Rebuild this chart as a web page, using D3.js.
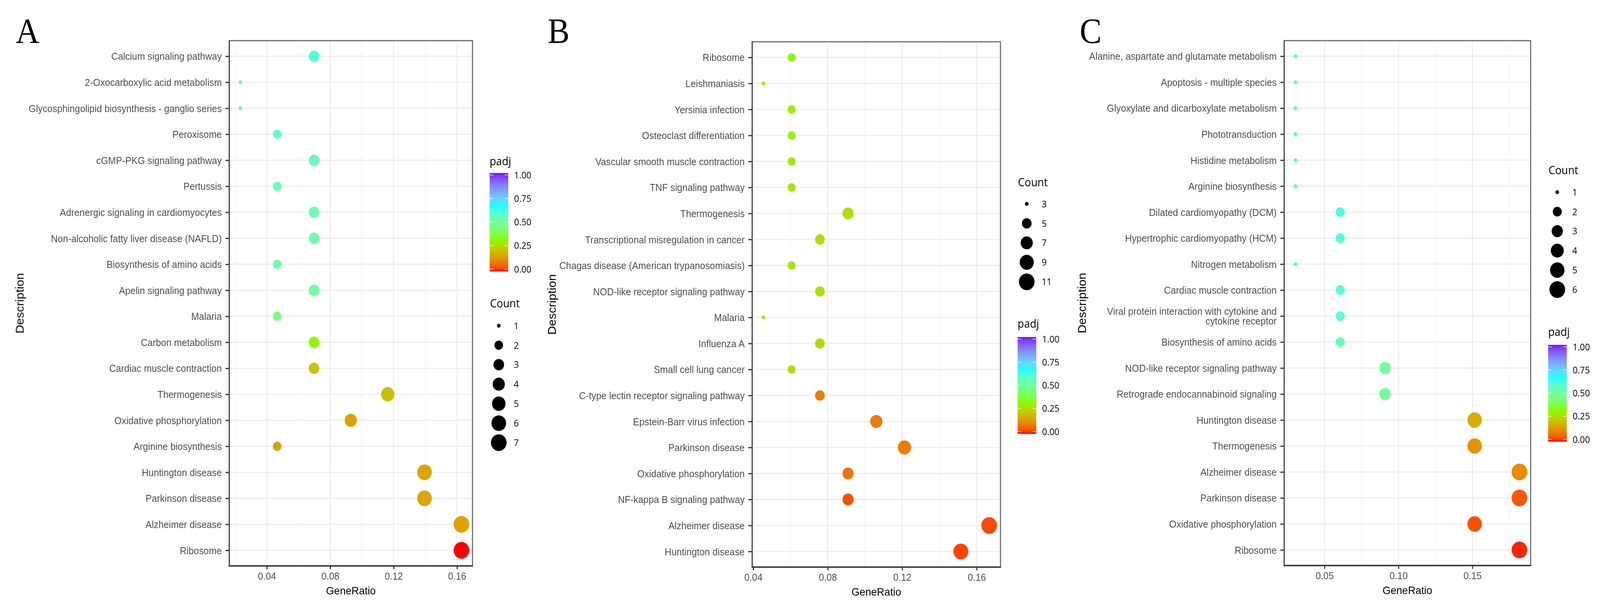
<!DOCTYPE html>
<html>
<head>
<meta charset="utf-8">
<script src="https://cdn.jsdelivr.net/npm/d3@7/dist/d3.min.js"></script>
<style>
  html, body { margin: 0; padding: 0; background: #ffffff; overflow: hidden; width: 100%; height: 100%; }
  svg { display: block; position: fixed; left: 0; top: 0; width: 100vw; height: 100vh; }
</style>
</head>
<body>
<svg id="chart" viewBox="0 0 4382 1567" preserveAspectRatio="none"></svg>
<script>
// ---------------- DATA ----------------
const termsA = ["Calcium signaling pathway","2-Oxocarboxylic acid metabolism","Glycosphingolipid biosynthesis - ganglio series","Peroxisome","cGMP-PKG signaling pathway","Pertussis","Adrenergic signaling in cardiomyocytes","Non-alcoholic fatty liver disease (NAFLD)","Biosynthesis of amino acids","Apelin signaling pathway","Malaria","Carbon metabolism","Cardiac muscle contraction","Thermogenesis","Oxidative phosphorylation","Arginine biosynthesis","Huntington disease","Parkinson disease","Alzheimer disease","Ribosome"];
const ratioA = [0.0698,0.0233,0.0233,0.0465,0.0698,0.0465,0.0698,0.0698,0.0465,0.0698,0.0465,0.0698,0.0698,0.1163,0.0930,0.0465,0.1395,0.1395,0.1628,0.1628];
const countA = [3,1,1,2,3,2,3,3,2,3,2,3,3,5,4,2,6,6,7,7];
const padjA  = [0.60,0.57,0.57,0.56,0.55,0.54,0.53,0.52,0.52,0.50,0.46,0.32,0.22,0.21,0.155,0.15,0.16,0.16,0.155,0.0];

const termsB = ["Ribosome","Leishmaniasis","Yersinia infection","Osteoclast differentiation","Vascular smooth muscle contraction","TNF signaling pathway","Thermogenesis","Transcriptional misregulation in cancer","Chagas disease (American trypanosomiasis)","NOD-like receptor signaling pathway","Malaria","Influenza A","Small cell lung cancer","C-type lectin receptor signaling pathway","Epstein-Barr virus infection","Parkinson disease","Oxidative phosphorylation","NF-kappa B signaling pathway","Alzheimer disease","Huntington disease"];
const ratioB = [0.0606,0.0455,0.0606,0.0606,0.0606,0.0606,0.0909,0.0758,0.0606,0.0758,0.0455,0.0758,0.0606,0.0758,0.1061,0.1212,0.0909,0.0909,0.1667,0.1515];
const countB = [4,3,4,4,4,4,6,5,4,5,3,5,4,5,7,8,6,6,11,10];
const padjB  = [0.32,0.31,0.30,0.30,0.30,0.29,0.27,0.27,0.29,0.27,0.26,0.26,0.27,0.10,0.09,0.09,0.08,0.04,0.035,0.03];

const termsC = ["Alanine, aspartate and glutamate metabolism","Apoptosis - multiple species","Glyoxylate and dicarboxylate metabolism","Phototransduction","Histidine metabolism","Arginine biosynthesis","Dilated cardiomyopathy (DCM)","Hypertrophic cardiomyopathy (HCM)","Nitrogen metabolism","Cardiac muscle contraction","Viral protein interaction with cytokine and\ncytokine receptor","Biosynthesis of amino acids","NOD-like receptor signaling pathway","Retrograde endocannabinoid signaling","Huntington disease","Thermogenesis","Alzheimer disease","Parkinson disease","Oxidative phosphorylation","Ribosome"];
const ratioC = [0.0303,0.0303,0.0303,0.0303,0.0303,0.0303,0.0606,0.0606,0.0303,0.0606,0.0606,0.0606,0.0909,0.0909,0.1515,0.1515,0.1818,0.1818,0.1515,0.1818];
const countC = [1,1,1,1,1,1,2,2,1,2,2,2,3,3,5,5,6,6,5,6];
const padjC  = [0.62,0.62,0.62,0.62,0.62,0.62,0.60,0.60,0.62,0.59,0.59,0.55,0.50,0.50,0.17,0.13,0.12,0.05,0.04,0.01];

const xTicksA = [0.04,0.08,0.12,0.16];
const xMinorA = [0.02,0.06,0.10,0.14];
const xTicksB = [0.04,0.08,0.12,0.16];
const xMinorB = [0.06,0.10,0.14];
const xTicksC = [0.05,0.10,0.15];
const xMinorC = [0.025,0.075,0.125,0.175];

const countBreaksA = [1,2,3,4,5,6,7];
const countBreaksB = [3,5,7,9,11];
const countBreaksC = [1,2,3,4,5,6];
const padjBreaks = [0,0.25,0.5,0.75,1];
const padjColors = ["#FF0000","#80FF00","#00FFFF","#8000FF"];
const panelLetters = ["A","B","C"];

// ---------------- LAYOUT ----------------
const panels = [
  { letter: panelLetters[0], terms: termsA, ratio: ratioA, count: countA, padj: padjA,
    ticks: xTicksA, minor: xMinorA, breaks: countBreaksA,
    letterX: 43, left: 628, right: 1294, top: 104, bottom: 1449, descX: 54,
    lg: { x: 1341, padjTitleY: 423, barY: 443, barH: 252, countTitleY: 787, firstItem: 834 } },
  { letter: panelLetters[1], terms: termsB, ratio: ratioB, count: countB, padj: padjB,
    ticks: xTicksB, minor: xMinorB, breaks: countBreaksB,
    letterX: 1500, left: 2060, right: 2740, top: 107, bottom: 1452, descX: 1511,
    lg: { x: 2787, countTitleY: 477, firstItem: 522, padjTitleY: 839, barY: 863, barH: 248 } },
  { letter: panelLetters[2], terms: termsC, ratio: ratioC, count: countC, padj: padjC,
    ticks: xTicksC, minor: xMinorC, breaks: countBreaksC,
    letterX: 2957, left: 3517, right: 4192, top: 104, bottom: 1448, descX: 2963,
    lg: { x: 4240, countTitleY: 446, firstItem: 492, padjTitleY: 860, barY: 883, barH: 248 } }
];

const svg = d3.select("#chart");
svg.append("rect").attr("width", 4382).attr("height", 1567).attr("fill", "#ffffff");

const color = d3.scaleLinear().domain([0, 1/3, 2/3, 1]).range(padjColors).interpolate(d3.interpolateLab).clamp(true);

// gradient for colorbar
const defs = svg.append("defs");
const grad = defs.append("linearGradient").attr("id", "padjGrad")
  .attr("x1", "0").attr("y1", "1").attr("x2", "0").attr("y2", "0");
d3.range(0, 1.0001, 0.025).forEach(t => {
  grad.append("stop").attr("offset", t).attr("stop-color", color(t));
});

const SANS = "'Liberation Sans', Arial, Helvetica, sans-serif";
const LEG = "'Open Sans', 'Liberation Sans', sans-serif";

panels.forEach(p => {
  const g = svg.append("g");
  const data = p.terms.map((t, i) => ({ term: t, ratio: p.ratio[i], count: p.count[i], padj: p.padj[i] }));

  const [xmin, xmax] = d3.extent(p.ratio);
  const w = xmax - xmin;
  const x = d3.scaleLinear().domain([xmin - 0.05 * w, xmax + 0.05 * w]).range([p.left, p.right]);
  const y = d3.scalePoint().domain(p.terms).range([p.top, p.bottom]).padding(0.6);

  const [cmin, cmax] = d3.extent(p.count);
  const sizeOf = c => 1 + 5 * Math.sqrt((c - cmin) / (cmax - cmin));
  const radius = c => 1.1585 * (2.845 * sizeOf(c) + 0.945) + 0.6;

  // panel letter
  g.append("text").attr("x", p.letterX).attr("y", 110)
    .attr("font-family", "'Liberation Serif', 'Times New Roman', serif")
    .attr("font-size", 90).attr("fill", "#000").text(p.letter);

  // grid minor
  g.append("g").selectAll("line").data(p.minor).join("line")
    .attr("x1", d => x(d)).attr("x2", d => x(d))
    .attr("y1", p.top).attr("y2", p.bottom)
    .attr("stroke", "#F2F2F2").attr("stroke-width", 1.4);
  // grid major vertical
  g.append("g").selectAll("line").data(p.ticks).join("line")
    .attr("x1", d => x(d)).attr("x2", d => x(d))
    .attr("y1", p.top).attr("y2", p.bottom)
    .attr("stroke", "#EBEBEB").attr("stroke-width", 2.6);
  // grid major horizontal
  g.append("g").selectAll("line").data(p.terms).join("line")
    .attr("x1", p.left).attr("x2", p.right)
    .attr("y1", d => y(d)).attr("y2", d => y(d))
    .attr("stroke", "#EBEBEB").attr("stroke-width", 2.6);

  // points
  g.append("g").selectAll("circle").data(data).join("circle")
    .attr("cx", d => x(d.ratio)).attr("cy", d => y(d.term))
    .attr("r", d => radius(d.count))
    .attr("fill", d => color(d.padj));

  // border
  g.append("rect").attr("x", p.left).attr("y", p.top)
    .attr("width", p.right - p.left).attr("height", p.bottom - p.top)
    .attr("fill", "none").attr("stroke", "#6a6a6a").attr("stroke-width", 3);
  g.append("line").attr("x1", p.left).attr("x2", p.left).attr("y1", p.top).attr("y2", p.bottom)
    .attr("stroke", "#444").attr("stroke-width", 3);
  g.append("line").attr("x1", p.left - 1.5).attr("x2", p.right + 1.5).attr("y1", p.bottom).attr("y2", p.bottom)
    .attr("stroke", "#333").attr("stroke-width", 3.5);

  // y axis
  const yAxis = g.append("g").attr("transform", `translate(${p.left - 1.5},0)`)
    .call(d3.axisLeft(y).tickSize(9).tickPadding(10).tickFormat(() => ""));
  yAxis.select(".domain").remove();
  yAxis.selectAll(".tick line").attr("stroke", "#333").attr("stroke-width", 3);
  yAxis.selectAll(".tick text").each(function(d) {
    const t = d3.select(this);
    const lines = d.split("\n");
    t.attr("font-family", SANS).attr("font-size", 25.6).attr("fill", "#4D4D4D")
      .attr("text-anchor", "end").attr("dy", null).attr("x", -19);
    lines.forEach((ln, k) => {
      t.append("tspan").attr("x", -19)
        .attr("dy", k === 0 ? `${0.35 - (lines.length - 1) * 0.49}em` : "0.98em")
        .text(ln);
    });
  });

  // x axis
  const xAxis = g.append("g").attr("transform", `translate(0,${p.bottom + 1.5})`)
    .call(d3.axisBottom(x).tickValues(p.ticks).tickSize(7).tickPadding(8).tickFormat(d3.format(".2f")));
  xAxis.select(".domain").remove();
  xAxis.selectAll(".tick line").attr("stroke", "#333").attr("stroke-width", 3);
  xAxis.selectAll(".tick text").attr("font-family", SANS).attr("font-size", 25.6).attr("fill", "#4D4D4D");

  // axis titles
  g.append("text").attr("x", (p.left + p.right) / 2).attr("y", p.bottom + 73)
    .attr("text-anchor", "middle").attr("font-family", SANS).attr("font-size", 28.5)
    .attr("fill", "#000").text("GeneRatio");
  g.append("text")
    .attr("transform", `translate(${p.descX + 11},${(p.top + p.bottom) / 2}) rotate(-90)`)
    .attr("text-anchor", "middle").attr("font-family", SANS).attr("font-size", 31)
    .attr("fill", "#000").text("Description");

  // ---- legends ----
  const L = p.lg;
  g.append("text").attr("x", L.x).attr("y", L.padjTitleY)
    .attr("font-family", LEG).attr("font-size", 29).attr("fill", "#000").text("padj");
  const barW = 51;
  g.append("rect").attr("x", L.x).attr("y", L.barY).attr("width", barW).attr("height", L.barH)
    .attr("fill", "url(#padjGrad)");
  const by = d3.scaleLinear().domain([0, 1]).range([L.barY + L.barH - 6, L.barY + 5]);
  const tk = g.append("g");
  padjBreaks.forEach(b => {
    tk.append("line").attr("x1", L.x).attr("x2", L.x + 10).attr("y1", by(b)).attr("y2", by(b))
      .attr("stroke", "#ffffff").attr("stroke-opacity", 0.85).attr("stroke-width", 1.6);
    tk.append("line").attr("x1", L.x + barW - 10).attr("x2", L.x + barW).attr("y1", by(b)).attr("y2", by(b))
      .attr("stroke", "#ffffff").attr("stroke-opacity", 0.85).attr("stroke-width", 1.6);
    tk.append("text").attr("x", L.x + 67).attr("y", by(b)).attr("dy", "0.36em")
      .attr("font-family", LEG).attr("font-size", 24).attr("fill", "#000")
      .text(d3.format(".2f")(b));
  });

  g.append("text").attr("x", L.x + 1).attr("y", L.countTitleY)
    .attr("font-family", LEG).attr("font-size", 29).attr("fill", "#000").text("Count");
  const items = g.append("g");
  p.breaks.forEach((c, i) => {
    const cy = L.firstItem + i * 49.9;
    items.append("circle").attr("cx", L.x + 25).attr("cy", cy).attr("r", radius(c)).attr("fill", "#000");
    items.append("text").attr("x", L.x + 66).attr("y", cy).attr("dy", "0.36em")
      .attr("font-family", LEG).attr("font-size", 24).attr("fill", "#000").text(c);
  });
});
</script>
</body>
</html>
